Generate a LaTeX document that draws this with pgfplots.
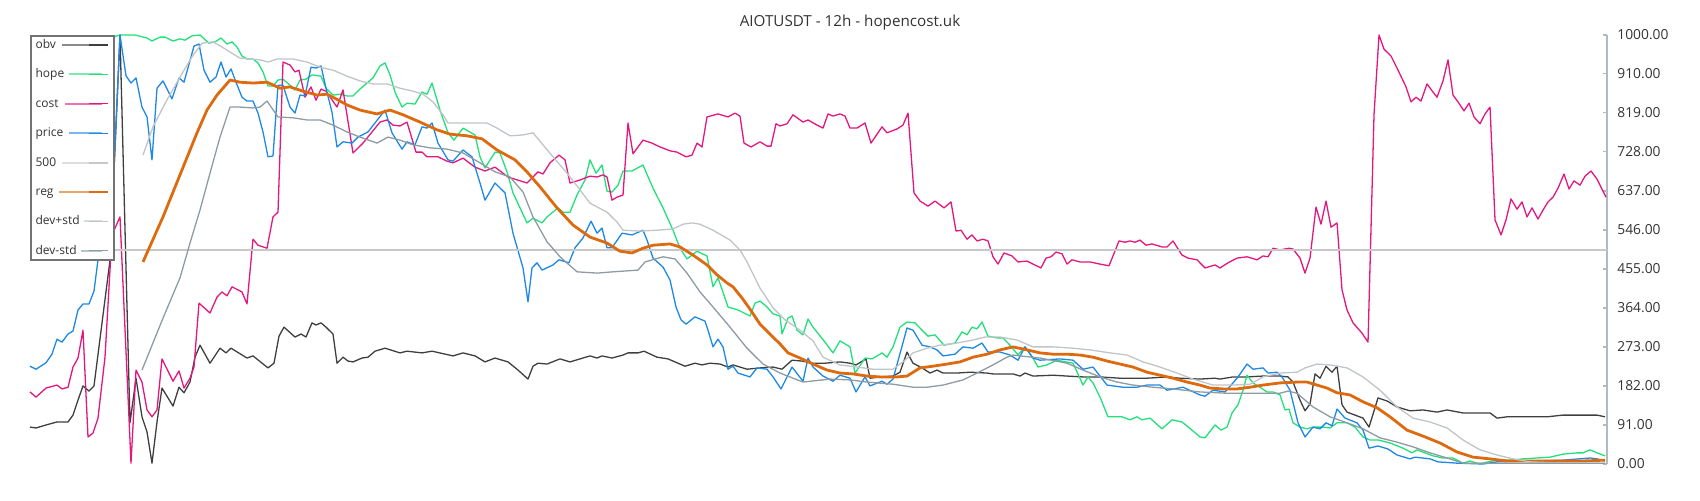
\documentclass[border=0pt]{standalone}
\usepackage{pgfplots}
\pgfplotsset{compat=1.18}
\usepackage{fontspec}
\setmainfont{Open Sans}
\definecolor{obvc}{HTML}{3F3F3F}
\definecolor{hopec}{HTML}{22E07A}
\definecolor{costc}{HTML}{E3177E}
\definecolor{pricec}{HTML}{1E88E5}
\definecolor{lvlc}{HTML}{C8C8C8}
\definecolor{regc}{HTML}{DD6A0E}
\definecolor{devpc}{HTML}{BFC5C8}
\definecolor{devmc}{HTML}{8D9BA3}
\definecolor{axc}{HTML}{B0BAC0}
\definecolor{txt}{HTML}{333333}
\pgfplotsset{
  leg/.style={legend image code/.code={\draw[##1,opacity=0.6,line width=1pt,overlay] (-#1,0pt) -- (6.5pt,0pt); \path (0pt,0pt) -- (9.5pt,0pt);}},
}
\newcommand{\lab}[1]{\makebox[26pt][l]{#1}}
\begin{document}
\begin{tikzpicture}
\begin{axis}[
  at={(15pt,18pt)}, anchor=south west,
  scale only axis, width=788.5pt, height=214.5pt,
  xmin=30, xmax=1607, ymin=0, ymax=1000,
  axis x line=none, axis y line*=right,
  y axis line style={draw=axc, line width=1pt},
  ytick={0,91,182,273,364,455,546,637,728,819,910,1000},
  ytick style={draw=axc, line width=0.8pt},
  major tick length=2pt, tick align=inside,
  yticklabel style={font=\fontsize{6.9}{8}\selectfont, text=txt, anchor=west, inner sep=0pt, xshift=5pt},
  /pgf/number format/.cd, fixed, fixed zerofill, precision=2, 1000 sep={}, assume math mode=true,
  /pgfplots/.cd,
  clip=false,
  legend plot pos=right,
  legend cell align=left,
  legend style={at={(0,1)}, anchor=north west, draw=black!55, line width=1pt, fill=white,
    inner xsep=2.3pt, inner ysep=2pt, row sep=9.7pt, column sep=0pt,
    font=\fontsize{6}{7}\selectfont, text=txt,
    nodes={inner sep=0pt, text height=4.2pt, text depth=0.8pt}},
  every axis plot/.append style={line width=0.65pt, line join=round},
]
% obv
\addplot[obvc, leg=13.5pt] coordinates {(30,86)(36,84)(46,91)(57,98)(62,98)(68,98)(73,114)(78,149)(83,182)(89,170)(94,182)(110,475)(120,1000)(130,96)(136,200)(142,110)(147,75)(152,2)(157,98)(162,177)(173,135)(179,179)(184,166)(190,191)(195,249)(200,277)(210,235)(220,270)(226,259)(231,270)(247,247)(253,252)(268,224)(274,235)(279,298)(284,319)(295,296)(301,303)(306,296)(312,329)(316,324)(321,329)(326,319)(333,303)(337,235)(343,249)(348,240)(353,238)(362,247)(368,249)(375,263)(385,270)(400,259)(407,263)(422,259)(432,263)(453,252)(463,259)(475,252)(485,238)(495,247)(508,238)(518,219)(528,198)(533,228)(538,235)(547,233)(560,245)(570,238)(590,252)(597,247)(602,252)(612,247)(623,254)(628,259)(638,259)(644,263)(657,249)(668,245)(685,228)(695,235)(702,231)(710,235)(720,233)(728,226)(733,231)(747,221)(760,224)(773,226)(782,221)(792,242)(802,240)(813,235)(825,235)(840,238)(850,235)(856,231)(866,245)(870,200)(880,203)(893,205)(900,214)(907,261)(913,235)(922,224)(930,212)(937,219)(943,212)(957,212)(970,214)(987,212)(993,210)(1013,210)(1020,205)(1025,212)(1033,205)(1053,207)(1067,205)(1083,203)(1100,203)(1120,200)(1147,200)(1167,203)(1180,200)(1200,198)(1215,200)(1220,198)(1233,203)(1247,203)(1263,205)(1280,205)(1288,203)(1293,191)(1300,149)(1305,124)(1310,140)(1315,210)(1320,200)(1326,228)(1332,214)(1337,228)(1342,138)(1347,121)(1355,114)(1363,107)(1369,86)(1378,154)(1387,147)(1397,133)(1410,124)(1423,126)(1437,121)(1447,126)(1463,119)(1477,119)(1490,119)(1497,107)(1507,110)(1530,110)(1547,110)(1563,114)(1580,114)(1597,114)(1605,110)};
\addlegendentry{\lab{obv}}
% hope
\addplot[hopec, leg=10.2pt] coordinates {(100,998)(112,995)(120,1000)(135,1000)(147,993)(152,986)(160,995)(165,995)(173,986)(180,991)(185,988)(192,998)(200,1000)(209,981)(215,984)(221,993)(227,979)(232,984)(237,972)(242,951)(247,944)(253,944)(258,935)(263,914)(268,881)(273,881)(278,895)(283,897)(290,883)(295,872)(300,895)(306,897)(312,907)(321,904)(326,876)(333,860)(340,862)(347,858)(353,858)(360,874)(367,888)(373,900)(380,928)(385,935)(390,907)(395,867)(402,832)(407,841)(415,839)(422,867)(427,862)(432,888)(440,825)(448,772)(454,755)(463,783)(475,767)(480,716)(485,690)(495,727)(500,725)(507,681)(513,632)(520,597)(527,562)(533,573)(542,562)(547,576)(558,597)(563,587)(570,587)(577,627)(585,662)(590,709)(596,678)(602,697)(607,636)(612,634)(618,650)(623,683)(632,683)(643,697)(653,643)(663,597)(673,545)(680,503)(687,478)(697,496)(707,485)(713,413)(718,434)(728,366)(738,359)(750,345)(755,375)(760,380)(767,366)(773,350)(780,345)(782,303)(788,340)(792,345)(797,312)(803,301)(808,338)(813,319)(825,284)(833,259)(840,287)(850,273)(855,212)(865,247)(872,245)(882,259)(887,249)(893,273)(900,319)(907,331)(915,329)(922,312)(928,298)(935,301)(944,277)(955,282)(962,308)(967,301)(972,319)(977,315)(982,331)(988,298)(997,294)(1003,294)(1010,277)(1018,254)(1025,273)(1033,247)(1038,226)(1047,231)(1057,242)(1073,235)(1083,184)(1088,203)(1093,189)(1100,156)(1108,110)(1122,110)(1130,103)(1137,110)(1142,103)(1150,107)(1162,82)(1172,103)(1182,98)(1192,79)(1200,63)(1205,61)(1215,91)(1221,79)(1227,86)(1232,119)(1238,138)(1243,172)(1247,207)(1253,189)(1260,179)(1267,168)(1273,168)(1280,161)(1285,126)(1289,128)(1293,96)(1300,86)(1307,82)(1313,86)(1323,86)(1330,84)(1337,96)(1347,96)(1355,86)(1363,63)(1370,56)(1378,56)(1390,49)(1403,37)(1412,26)(1417,33)(1425,26)(1433,19)(1443,14)(1453,14)(1463,2)(1470,7)(1477,2)(1483,2)(1488,5)(1497,9)(1510,9)(1523,12)(1537,14)(1550,16)(1563,23)(1577,26)(1583,26)(1590,33)(1597,26)(1605,19)};
\addlegendentry{\lab{hope}}
% cost
\addplot[costc, leg=11.8pt] coordinates {(30,168)(36,156)(46,177)(57,184)(62,175)(68,179)(73,226)(78,247)(83,312)(88,63)(93,72)(98,107)(105,249)(112,534)(120,576)(131,2)(136,219)(142,191)(147,126)(152,110)(157,126)(162,245)(173,193)(179,217)(184,177)(190,200)(194,226)(199,375)(210,352)(217,389)(222,401)(227,392)(232,413)(242,401)(247,373)(253,524)(258,510)(267,503)(273,576)(278,587)(283,937)(290,930)(295,914)(299,918)(305,855)(311,879)(316,848)(321,874)(326,869)(337,832)(343,872)(353,725)(363,748)(372,774)(380,797)(387,802)(393,790)(400,788)(407,797)(416,727)(422,727)(427,716)(438,716)(447,706)(453,702)(463,713)(475,692)(485,683)(495,692)(508,669)(527,655)(538,681)(543,676)(550,702)(559,720)(565,709)(570,655)(580,662)(590,671)(597,669)(603,674)(607,669)(612,615)(617,622)(623,627)(628,795)(633,723)(643,755)(652,748)(660,739)(670,730)(677,727)(686,716)(692,720)(697,748)(702,739)(707,809)(718,816)(728,809)(735,818)(740,811)(744,748)(751,739)(760,751)(767,741)(771,741)(776,793)(780,788)(787,793)(793,814)(803,797)(808,802)(817,790)(823,783)(828,816)(833,811)(840,816)(845,811)(850,783)(857,783)(865,795)(871,748)(882,786)(887,772)(897,781)(903,790)(908,818)(914,632)(920,613)(928,601)(935,613)(944,597)(951,611)(956,543)(961,545)(967,524)(972,534)(977,520)(983,524)(988,520)(993,483)(998,466)(1004,492)(1012,485)(1018,471)(1027,473)(1033,466)(1041,457)(1046,480)(1051,483)(1056,494)(1062,490)(1067,466)(1072,476)(1080,471)(1090,471)(1100,466)(1109,462)(1119,520)(1125,517)(1130,520)(1135,517)(1140,522)(1146,510)(1152,513)(1162,506)(1167,506)(1173,520)(1182,487)(1188,480)(1197,476)(1205,457)(1215,464)(1220,457)(1228,469)(1237,480)(1247,483)(1257,476)(1263,485)(1268,483)(1273,503)(1280,499)(1289,503)(1293,501)(1300,480)(1305,445)(1310,480)(1316,599)(1321,559)(1326,613)(1331,552)(1337,562)(1342,406)(1347,359)(1353,329)(1362,305)(1368,284)(1374,814)(1379,1000)(1384,967)(1391,951)(1397,923)(1406,879)(1411,844)(1416,855)(1421,846)(1427,886)(1433,867)(1437,855)(1443,893)(1448,942)(1453,860)(1458,844)(1464,823)(1469,841)(1474,809)(1480,793)(1485,816)(1490,832)(1495,569)(1501,534)(1506,569)(1511,618)(1517,594)(1522,611)(1527,576)(1532,597)(1538,571)(1543,592)(1548,611)(1553,622)(1558,643)(1564,676)(1569,641)(1574,660)(1580,650)(1585,671)(1591,683)(1597,664)(1606,622)};
\addlegendentry{\lab{cost}}
% price
\addplot[pricec, leg=10.2pt] coordinates {(30,228)(36,221)(46,236)(52,256)(57,291)(62,284)(68,303)(73,310)(78,359)(83,373)(89,373)(94,403)(98,476)(112,580)(120,1000)(126,905)(131,888)(136,900)(142,832)(147,809)(152,709)(157,876)(163,893)(172,851)(179,900)(184,890)(194,974)(199,979)(204,918)(210,890)(216,902)(221,937)(226,902)(231,921)(236,890)(242,855)(247,846)(253,846)(258,818)(263,774)(268,716)(273,718)(278,883)(283,883)(290,832)(295,818)(300,860)(305,858)(311,925)(316,923)(321,928)(326,876)(332,820)(337,739)(343,751)(352,748)(358,762)(368,774)(375,795)(385,825)(392,772)(402,734)(407,751)(415,744)(422,786)(427,783)(432,795)(438,748)(448,709)(453,706)(463,732)(472,716)(480,655)(485,615)(495,655)(505,632)(513,538)(523,457)(528,378)(532,457)(537,469)(542,452)(553,464)(559,476)(569,469)(575,504)(583,527)(591,566)(597,538)(602,550)(607,504)(612,504)(622,538)(632,534)(643,545)(647,522)(653,480)(663,459)(670,429)(676,366)(681,336)(686,326)(695,343)(705,333)(708,312)(713,273)(718,291)(723,273)(728,221)(733,228)(738,212)(750,203)(757,224)(767,221)(773,203)(781,175)(792,226)(803,193)(808,247)(813,226)(823,205)(833,193)(840,207)(850,200)(856,168)(865,203)(870,182)(882,193)(887,186)(893,198)(907,317)(913,312)(922,277)(930,273)(937,266)(943,252)(955,256)(963,273)(973,270)(982,282)(988,261)(1000,261)(1010,254)(1018,242)(1025,273)(1033,247)(1040,242)(1060,245)(1073,242)(1083,221)(1093,226)(1107,184)(1123,179)(1137,179)(1147,184)(1160,184)(1167,172)(1183,179)(1200,161)(1205,158)(1213,172)(1225,168)(1233,189)(1238,203)(1247,233)(1253,221)(1263,224)(1268,212)(1277,214)(1282,203)(1290,172)(1298,96)(1305,63)(1313,86)(1320,82)(1326,96)(1332,89)(1337,128)(1345,107)(1357,96)(1363,79)(1369,37)(1378,42)(1388,35)(1397,21)(1410,12)(1415,16)(1430,12)(1438,5)(1457,2)(1483,0)(1497,5)(1530,7)(1563,9)(1590,14)(1597,12)(1605,7)};
\addlegendentry{\lab{price}}
% 500
\addplot[lvlc, line width=1pt, leg=13.5pt] coordinates {(30,500)(1607,500)};
\addlegendentry{\lab{500}}
% reg
\addplot[regc, line width=1.4pt, leg=14.8pt] coordinates {(143,471)(163,576)(180,674)(197,772)(207,825)(217,860)(230,895)(240,890)(253,888)(267,890)(280,876)(290,879)(303,869)(317,860)(327,862)(333,855)(347,837)(360,825)(377,816)(390,825)(403,814)(420,797)(437,779)(450,769)(467,765)(482,758)(497,732)(515,709)(527,681)(540,646)(557,597)(573,557)(590,529)(607,515)(620,496)(632,492)(643,503)(653,510)(670,513)(680,506)(693,487)(707,464)(717,441)(727,422)(733,413)(742,387)(750,361)(760,326)(772,298)(780,280)(788,259)(800,247)(813,233)(827,219)(840,212)(853,210)(867,205)(880,203)(897,203)(907,205)(920,224)(933,228)(947,233)(960,238)(973,249)(987,256)(1000,266)(1013,273)(1027,266)(1040,259)(1053,256)(1067,256)(1080,254)(1093,249)(1107,240)(1120,233)(1133,226)(1147,214)(1160,207)(1173,200)(1187,191)(1200,184)(1210,177)(1223,175)(1237,175)(1250,179)(1263,184)(1280,189)(1297,191)(1307,191)(1317,184)(1327,177)(1337,166)(1350,161)(1363,145)(1377,131)(1390,110)(1407,79)(1423,65)(1440,49)(1457,28)(1473,16)(1490,12)(1507,7)(1530,7)(1563,7)(1583,7)(1605,9)};
\addlegendentry{\lab{reg}}
% dev+std
\addplot[devpc, leg=2.7pt] coordinates {(143,720)(153,786)(167,849)(180,902)(192,949)(202,981)(213,984)(222,972)(233,956)(240,946)(260,942)(268,937)(277,944)(293,944)(307,937)(320,925)(333,918)(347,904)(360,893)(373,886)(387,886)(400,876)(413,869)(423,862)(433,844)(443,814)(448,795)(467,795)(487,795)(497,783)(510,765)(523,767)(533,772)(543,744)(553,716)(567,678)(580,639)(590,608)(607,587)(617,564)(623,545)(640,543)(657,545)(673,548)(683,559)(692,562)(700,559)(713,545)(730,522)(740,499)(747,471)(760,410)(773,364)(785,336)(800,312)(813,287)(823,249)(840,231)(857,226)(873,221)(893,221)(903,238)(913,259)(927,270)(940,277)(957,282)(973,289)(985,296)(1000,296)(1017,289)(1033,273)(1053,273)(1073,270)(1090,266)(1110,259)(1127,254)(1143,238)(1160,226)(1177,212)(1193,198)(1213,184)(1233,184)(1250,186)(1263,203)(1280,212)(1297,214)(1305,224)(1317,233)(1330,231)(1347,224)(1363,203)(1380,172)(1397,133)(1413,107)(1430,98)(1447,84)(1463,56)(1480,33)(1497,21)(1513,12)(1530,5)(1563,2)(1605,2)};
\addlegendentry{\lab{dev+std}}
% dev-std
\addplot[devmc, leg=4pt] coordinates {(142,219)(163,340)(180,434)(190,515)(200,592)(210,678)(220,762)(230,832)(240,832)(253,830)(260,832)(267,846)(278,809)(293,807)(307,802)(320,802)(333,790)(347,774)(360,762)(377,748)(388,762)(400,755)(413,744)(430,737)(447,734)(463,725)(480,702)(495,681)(510,669)(523,634)(533,576)(547,518)(560,483)(577,448)(597,445)(613,448)(638,452)(645,471)(663,483)(675,478)(687,445)(700,401)(713,366)(730,319)(747,270)(763,233)(780,212)(803,191)(830,198)(850,196)(867,191)(893,186)(913,179)(927,179)(943,184)(963,196)(977,212)(993,231)(1007,249)(1013,254)(1020,252)(1040,247)(1067,235)(1083,219)(1100,203)(1117,191)(1133,184)(1153,179)(1173,175)(1200,168)(1227,165)(1250,165)(1263,165)(1280,165)(1288,170)(1297,165)(1307,145)(1313,133)(1330,110)(1347,96)(1363,82)(1380,61)(1397,51)(1413,40)(1430,26)(1447,14)(1463,2)(1605,2)};
\addlegendentry{\lab{dev-std}}
\end{axis}
\node[anchor=base, text=txt, font=\fontsize{7.6}{9}\selectfont] at (425pt,237pt) {AIOTUSDT - 12h - hopencost.uk};
\pgfresetboundingbox
\path[use as bounding box] (0,0) rectangle (850pt,250pt);
\end{tikzpicture}
\end{document}
